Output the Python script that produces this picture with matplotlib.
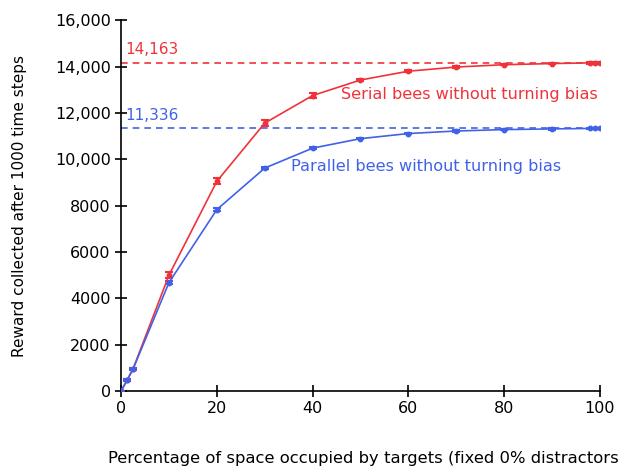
import matplotlib.pyplot as plt
import matplotlib.ticker as mticker

# data
pct = [0, 1.25, 2.5, 10, 20, 30, 40, 50, 60, 70, 80, 90, 98, 99, 100]
serial = [0, 470, 960, 5000, 9050, 11560, 12750, 13420, 13800, 13980, 14080, 14130, 14160, 14163, 14163]
serial_err = [20, 30, 50, 130, 130, 120, 90, 50, 40, 30, 30, 30, 30, 30, 30]
parallel = [0, 470, 950, 4680, 7830, 9620, 10480, 10890, 11110, 11220, 11280, 11310, 11330, 11336, 11336]
parallel_err = [20, 30, 40, 80, 60, 40, 40, 30, 30, 30, 30, 30, 30, 30, 30]

serial_max = 14163
parallel_max = 11336

RED = '#f0323a'
BLUE = '#4062e8'

fig = plt.figure(figsize=(6.21, 4.70), dpi=100)
ax = fig.add_axes([0.195, 0.168, 0.771, 0.789])

ax.errorbar(pct, serial, yerr=serial_err, color=RED, marker='o', markersize=3.2,
            linewidth=1.2, capsize=3, elinewidth=1.5, capthick=1.5, zorder=3)
ax.errorbar(pct, parallel, yerr=parallel_err, color=BLUE, marker='o', markersize=3.2,
            linewidth=1.2, capsize=3, elinewidth=1.5, capthick=1.5, zorder=3)

# asymptote lines
ax.axhline(serial_max, color=RED, linestyle=(0, (4, 3)), linewidth=1.2, zorder=2)
ax.axhline(parallel_max, color=BLUE, linestyle=(0, (4, 3)), linewidth=1.2, zorder=2)
ax.text(0.8, serial_max + 250, f'{serial_max:,}', color=RED, fontsize=11, va='bottom')
ax.text(0.8, parallel_max + 250, f'{parallel_max:,}', color=BLUE, fontsize=11, va='bottom')

ax.text(46, 12620, 'Serial bees without turning bias', color=RED, fontsize=11.6)
ax.text(35.5, 9480, 'Parallel bees without turning bias', color=BLUE, fontsize=11.6)

ax.set_xlim(0, 100)
ax.set_ylim(0, 16000)
ax.set_xticks([0, 20, 40, 60, 80, 100])
ax.set_yticks(range(0, 16001, 2000))


def fmt(v, pos):
    v = int(v)
    return f'{v:,}' if v >= 10000 else str(v)


ax.yaxis.set_major_formatter(mticker.FuncFormatter(fmt))
ax.tick_params(direction='inout', length=8, width=1.2, labelsize=11.5)
ax.spines['top'].set_visible(False)
ax.spines['right'].set_visible(False)
ax.spines['left'].set_linewidth(1.2)
ax.spines['bottom'].set_linewidth(1.2)

ax.set_ylabel('Reward collected after 1000 time steps', fontsize=11, labelpad=20)
fig.text(108 / 621, 1 - 459 / 470, 'Percentage of space occupied by targets (fixed 0% distractors',
         fontsize=11.8, va='center', ha='left')

fig.savefig('out.png', dpi=100)
